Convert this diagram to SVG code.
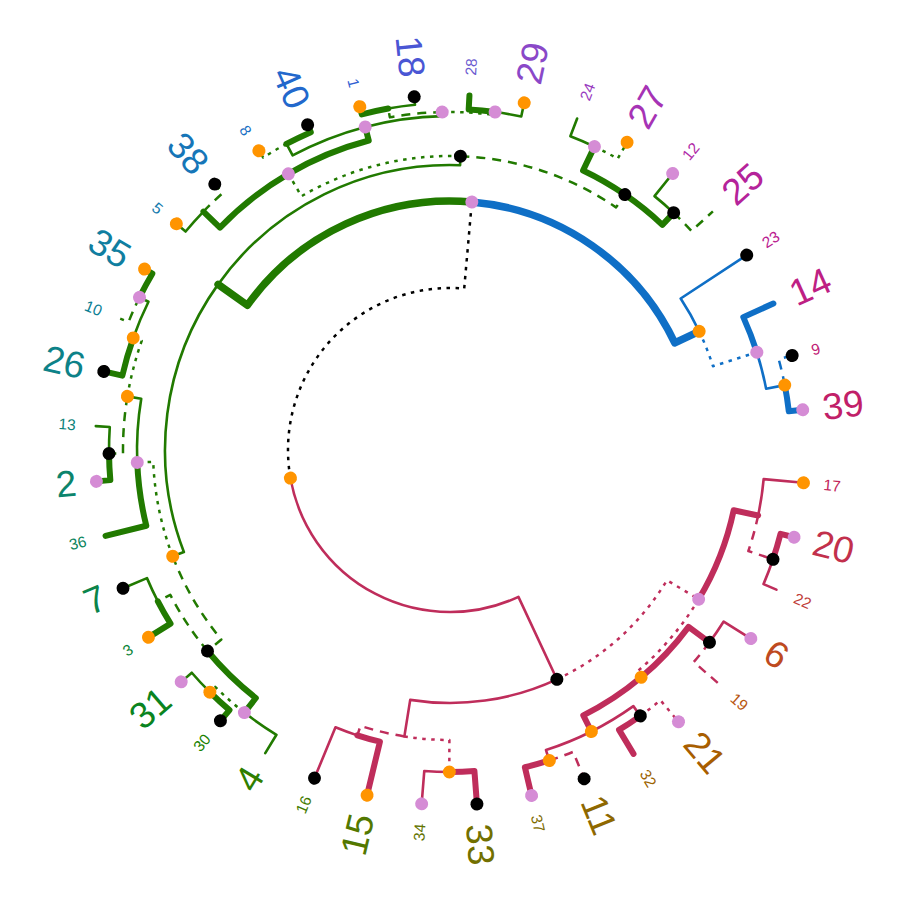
<svg xmlns="http://www.w3.org/2000/svg" width="900" height="900" viewBox="0 0 900 900">
<style>
.e{fill:none;stroke-linejoin:round}
.s{stroke-width:2.6;stroke-linecap:round}
.w{stroke-width:6;stroke-linecap:round}
.w7{stroke-width:7.5;stroke-linecap:round}
.da{stroke-width:2.5;stroke-dasharray:9 7}
.do{stroke-width:2.5;stroke-dasharray:3.5 5.5}
.gr{stroke:#217A00}.bl{stroke:#0F6FC6}.rd{stroke:#BF2D5B}.bk{stroke:#000}
.o{fill:#FF9400}.p{fill:#D58CD5}.k{fill:#000}
text{font-family:"Liberation Sans",Arial,sans-serif;dominant-baseline:central}
.big{font-size:37px}.sm{font-size:15.5px}
</style>
<rect width="900" height="900" fill="#fff"/>
<g transform="translate(450 450)">
<g id="connectors">
<path class="e do bk" transform="rotate(275.03)" d="M -41.96 -156.48 A 162 162 0 0 1 162 0 L 249 0"/>
<path class="e s rd" transform="rotate(65.01)" d="M -41.96 156.48 A 162 162 0 0 0 162 0 L 253 0"/>
<path class="e do rd" transform="rotate(30.97)" d="M 209.66 141.60 A 253 253 0 0 0 253 0 L 290 0"/>
<path class="e s rd" transform="rotate(99.05)" d="M 209.66 -141.60 A 253 253 0 0 1 253 0 L 290 0"/>
<path class="e w rd" transform="rotate(12)" d="M 274.25 94.28 A 290 290 0 0 0 290 0 L 315 0"/>
<path class="e do rd" transform="rotate(49.94)" d="M 274.25 -94.28 A 290 290 0 0 1 290 0 L 297 0"/>
<path class="e s rd" transform="rotate(5.30)" d="M 312.85 36.75 A 315 315 0 0 0 315 0 L 355 0"/>
<path class="e da rd" transform="rotate(18.70)" d="M 312.85 -36.75 A 315 315 0 0 1 315 0 L 341 0"/>
<path class="e w rd" transform="rotate(14.23)" d="M 339.96 26.58 A 341 341 0 0 0 341 0 L 355 0"/>
<path class="e s rd" transform="rotate(23.16)" d="M 339.96 -26.58 A 341 341 0 0 1 341 0 L 355 0"/>
<path class="e w rd" transform="rotate(36.55)" d="M 288.93 68.78 A 297 297 0 0 0 297 0 L 323 0"/>
<path class="e w rd" transform="rotate(63.33)" d="M 288.93 -68.78 A 297 297 0 0 1 297 0 L 315 0"/>
<path class="e s rd" transform="rotate(32.08)" d="M 322.02 25.17 A 323 323 0 0 0 323 0 L 355 0"/>
<path class="e da rd" transform="rotate(41.01)" d="M 322.02 -25.17 A 323 323 0 0 1 323 0 L 355 0"/>
<path class="e s rd" transform="rotate(54.40)" d="M 311.18 48.90 A 315 315 0 0 0 315 0 L 327 0"/>
<path class="e s rd" transform="rotate(72.26)" d="M 311.18 -48.90 A 315 315 0 0 1 315 0 L 326 0"/>
<path class="e do rd" transform="rotate(49.94)" d="M 326.01 25.49 A 327 327 0 0 0 327 0 L 355 0"/>
<path class="e w rd" transform="rotate(58.87)" d="M 326.01 -25.49 A 327 327 0 0 1 327 0 L 355 0"/>
<path class="e da rd" transform="rotate(67.80)" d="M 325.01 25.41 A 326 326 0 0 0 326 0 L 355 0"/>
<path class="e w rd" transform="rotate(76.72)" d="M 325.01 -25.41 A 326 326 0 0 1 326 0 L 355 0"/>
<path class="e da rd" transform="rotate(107.98)" d="M 286.49 -45.02 A 290 290 0 0 1 290 0 L 300 0"/>
<path class="e do rd" transform="rotate(90.12)" d="M 286.49 45.02 A 290 290 0 0 0 290 0 L 322 0"/>
<path class="e w rd" transform="rotate(103.51)" d="M 299.09 23.38 A 300 300 0 0 0 300 0 L 355 0"/>
<path class="e s rd" transform="rotate(112.44)" d="M 299.09 -23.38 A 300 300 0 0 1 300 0 L 355 0"/>
<path class="e w rd" transform="rotate(85.65)" d="M 321.02 25.10 A 322 322 0 0 0 322 0 L 355 0"/>
<path class="e s rd" transform="rotate(94.58)" d="M 321.02 -25.10 A 322 322 0 0 1 322 0 L 355 0"/>
<path class="e w7 bl" transform="rotate(334.52)" d="M 126.39 -214.54 A 249 249 0 0 1 249 0 L 276 0"/>
<path class="e s bl" transform="rotate(326.70)" d="M 273.43 37.55 A 276 276 0 0 0 276 0 L 355 0"/>
<path class="e do bl" transform="rotate(342.33)" d="M 273.43 -37.55 A 276 276 0 0 1 276 0 L 322 0"/>
<path class="e w bl" transform="rotate(335.63)" d="M 319.80 37.57 A 322 322 0 0 0 322 0 L 355 0"/>
<path class="e s bl" transform="rotate(349.03)" d="M 319.80 -37.57 A 322 322 0 0 1 322 0 L 341 0"/>
<path class="e da bl" transform="rotate(344.56)" d="M 339.96 26.58 A 341 341 0 0 0 341 0 L 355 0"/>
<path class="e w bl" transform="rotate(353.49)" d="M 339.96 -26.58 A 341 341 0 0 1 341 0 L 355 0"/>
<path class="e w7 gr" transform="rotate(215.53)" d="M 126.39 214.54 A 249 249 0 0 0 249 0 L 285 0"/>
<path class="e s gr" transform="rotate(159.03)" d="M 157.29 237.66 A 285 285 0 0 0 285 0 L 297 0"/>
<path class="e s gr" transform="rotate(272.03)" d="M 157.29 -237.66 A 285 285 0 0 1 285 0 L 294 0"/>
<path class="e do gr" transform="rotate(239.66)" d="M 248.31 157.41 A 294 294 0 0 0 294 0 L 320 0"/>
<path class="e da gr" transform="rotate(304.39)" d="M 248.31 -157.41 A 294 294 0 0 1 294 0 L 309.5 0"/>
<path class="e w gr" transform="rotate(295.46)" d="M 305.75 48.05 A 309.5 309.5 0 0 0 309.5 0 L 336 0"/>
<path class="e w gr" transform="rotate(313.32)" d="M 305.75 -48.05 A 309.5 309.5 0 0 1 309.5 0 L 326 0"/>
<path class="e s gr" transform="rotate(290.99)" d="M 334.98 26.19 A 336 336 0 0 0 336 0 L 355 0"/>
<path class="e do gr" transform="rotate(299.92)" d="M 334.98 -26.19 A 336 336 0 0 1 336 0 L 355 0"/>
<path class="e s gr" transform="rotate(308.85)" d="M 325.01 25.41 A 326 326 0 0 0 326 0 L 355 0"/>
<path class="e da gr" transform="rotate(317.78)" d="M 325.01 -25.41 A 326 326 0 0 1 326 0 L 355 0"/>
<path class="e w gr" transform="rotate(224.04)" d="M 308.18 86.16 A 320 320 0 0 0 320 0 L 343 0"/>
<path class="e w gr" transform="rotate(255.29)" d="M 308.18 -86.16 A 320 320 0 0 1 320 0 L 334 0"/>
<path class="e s gr" transform="rotate(219.57)" d="M 341.96 26.73 A 343 343 0 0 0 343 0 L 355 0"/>
<path class="e da gr" transform="rotate(228.50)" d="M 341.96 -26.73 A 343 343 0 0 1 343 0 L 355 0"/>
<path class="e s gr" transform="rotate(241.89)" d="M 324.92 77.35 A 334 334 0 0 0 334 0 L 347 0"/>
<path class="e s gr" transform="rotate(268.68)" d="M 324.92 -77.35 A 334 334 0 0 1 334 0 L 338 0"/>
<path class="e do gr" transform="rotate(237.43)" d="M 345.95 27.04 A 347 347 0 0 0 347 0 L 355 0"/>
<path class="e w gr" transform="rotate(246.35)" d="M 345.95 -27.04 A 347 347 0 0 1 347 0 L 355 0"/>
<path class="e da gr" transform="rotate(259.75)" d="M 333.90 52.47 A 338 338 0 0 0 338 0 L 347 0"/>
<path class="e do gr" transform="rotate(277.60)" d="M 333.90 -52.47 A 338 338 0 0 1 338 0 L 341 0"/>
<path class="e w gr" transform="rotate(255.28)" d="M 345.95 27.04 A 347 347 0 0 0 347 0 L 355 0"/>
<path class="e s gr" transform="rotate(264.21)" d="M 345.95 -27.04 A 347 347 0 0 1 347 0 L 355 0"/>
<path class="e w gr" transform="rotate(273.14)" d="M 339.96 26.58 A 341 341 0 0 0 341 0 L 355 0"/>
<path class="e s gr" transform="rotate(282.06)" d="M 339.96 -26.58 A 341 341 0 0 1 341 0 L 355 0"/>
<path class="e do gr" transform="rotate(177.72)" d="M 281.34 -95.18 A 297 297 0 0 1 297 0 L 313 0"/>
<path class="e da gr" transform="rotate(140.34)" d="M 281.34 95.18 A 297 297 0 0 0 297 0 L 315 0"/>
<path class="e w gr" transform="rotate(166.00)" d="M 306.47 63.58 A 313 313 0 0 0 313 0 L 355 0"/>
<path class="e s gr" transform="rotate(189.44)" d="M 306.47 -63.58 A 313 313 0 0 1 313 0 L 327 0"/>
<path class="e da gr" transform="rotate(179.40)" d="M 322.0 57.01 A 327 327 0 0 0 327 0 L 341 0"/>
<path class="e do gr" transform="rotate(199.49)" d="M 322.0 -57.01 A 327 327 0 0 1 327 0 L 336 0"/>
<path class="e w gr" transform="rotate(174.93)" d="M 339.96 26.58 A 341 341 0 0 0 341 0 L 355 0"/>
<path class="e s gr" transform="rotate(183.86)" d="M 339.96 -26.58 A 341 341 0 0 1 341 0 L 355 0"/>
<path class="e w gr" transform="rotate(192.79)" d="M 333.71 39.20 A 336 336 0 0 0 336 0 L 355 0"/>
<path class="e s gr" transform="rotate(206.18)" d="M 333.71 -39.20 A 336 336 0 0 1 336 0 L 346 0"/>
<path class="e da gr" transform="rotate(201.72)" d="M 344.95 26.97 A 346 346 0 0 0 346 0 L 355 0"/>
<path class="e w gr" transform="rotate(210.64)" d="M 344.95 -26.97 A 346 346 0 0 1 346 0 L 355 0"/>
<path class="e w gr" transform="rotate(128.06)" d="M 307.79 67.0 A 315 315 0 0 0 315 0 L 333.5 0"/>
<path class="e da gr" transform="rotate(152.62)" d="M 307.79 -67.0 A 315 315 0 0 1 315 0 L 329 0"/>
<path class="e s gr" transform="rotate(121.36)" d="M 331.22 38.91 A 333.5 333.5 0 0 0 333.5 0 L 355 0"/>
<path class="e do gr" transform="rotate(134.76)" d="M 331.22 -38.91 A 333.5 333.5 0 0 1 333.5 0 L 341 0"/>
<path class="e w gr" transform="rotate(130.29)" d="M 339.96 26.58 A 341 341 0 0 0 341 0 L 355 0"/>
<path class="e s gr" transform="rotate(139.22)" d="M 339.96 -26.58 A 341 341 0 0 1 341 0 L 355 0"/>
<path class="e w gr" transform="rotate(148.15)" d="M 328.0 25.64 A 329 329 0 0 0 329 0 L 355 0"/>
<path class="e s gr" transform="rotate(157.08)" d="M 328.0 -25.64 A 329 329 0 0 1 329 0 L 355 0"/>
</g>
<g id="internal-nodes">
<g id="n-root"><circle class="o" r="6.5" cx="162" transform="rotate(170.02)"/></g>
<g id="n-A"><circle class="p" r="6.5" cx="249" transform="rotate(275.03)"/></g>
<g id="n-B"><circle class="k" r="6.5" cx="253" transform="rotate(65.01)"/></g>
<g id="n-P1"><circle class="p" r="6.5" cx="290" transform="rotate(30.97)"/></g>
<g id="n-R0"><circle class="o" r="6.5" cx="297" transform="rotate(49.94)"/></g>
<g id="n-R1"><circle class="k" r="6.5" cx="323" transform="rotate(36.55)"/></g>
<g id="n-Q2"><circle class="o" r="6.5" cx="315" transform="rotate(63.33)"/></g>
<g id="n-Q2a"><circle class="k" r="6.5" cx="327" transform="rotate(54.40)"/></g>
<g id="n-Q2b"><circle class="o" r="6.5" cx="326" transform="rotate(72.26)"/></g>
<g id="n-Q1b"><circle class="k" r="6.5" cx="341" transform="rotate(18.70)"/></g>
<g id="n-P2b"><circle class="o" r="6.5" cx="322" transform="rotate(90.12)"/></g>
<g id="n-Bl"><circle class="o" r="6.5" cx="276" transform="rotate(334.52)"/></g>
<g id="n-Bl2"><circle class="p" r="6.5" cx="322" transform="rotate(342.33)"/></g>
<g id="n-Bl3"><circle class="o" r="6.5" cx="341" transform="rotate(349.03)"/></g>
<g id="n-G1"><circle class="o" r="6.5" cx="297" transform="rotate(159.03)"/></g>
<g id="n-G2"><circle class="k" r="6.5" cx="294" transform="rotate(272.03)"/></g>
<g id="n-G2b"><circle class="k" r="6.5" cx="309.5" transform="rotate(304.39)"/></g>
<g id="n-G2c"><circle class="p" r="6.5" cx="336" transform="rotate(295.46)"/></g>
<g id="n-G2d"><circle class="k" r="6.5" cx="326" transform="rotate(313.32)"/></g>
<g id="n-G3"><circle class="p" r="6.5" cx="320" transform="rotate(239.66)"/></g>
<g id="n-G4"><circle class="p" r="6.5" cx="334" transform="rotate(255.29)"/></g>
<g id="n-Y"><circle class="p" r="6.5" cx="338" transform="rotate(268.68)"/></g>
<g id="n-Y2"><circle class="p" r="6.5" cx="341" transform="rotate(277.60)"/></g>
<g id="n-H1"><circle class="p" r="6.5" cx="313" transform="rotate(177.72)"/></g>
<g id="n-H2"><circle class="k" r="6.5" cx="315" transform="rotate(140.34)"/></g>
<g id="n-H3"><circle class="p" r="6.5" cx="333.5" transform="rotate(128.06)"/></g>
<g id="n-H5"><circle class="o" r="6.5" cx="341" transform="rotate(134.76)"/></g>
<g id="n-H6"><circle class="o" r="6.5" cx="327" transform="rotate(189.44)"/></g>
<g id="n-H7"><circle class="k" r="6.5" cx="341" transform="rotate(179.40)"/></g>
<g id="n-H8"><circle class="o" r="6.5" cx="336" transform="rotate(199.49)"/></g>
<g id="n-H9"><circle class="p" r="6.5" cx="346" transform="rotate(206.18)"/></g>
</g>
<g id="tips">
<g id="tip-17" transform="rotate(5.30)"><circle class="o" r="6.5" cx="355"/><text class="sm" x="375" fill="#C2255A">17</text></g>
<g id="tip-20" transform="rotate(14.23)"><circle class="p" r="6.5" cx="355"/><text class="big" x="375" fill="#C2304C">20</text></g>
<g id="tip-22" transform="rotate(23.16)"><text class="sm" x="375" fill="#C03E3A">22</text></g>
<g id="tip-6" transform="rotate(32.08)"><circle class="p" r="6.5" cx="355"/><text class="big" x="375" fill="#BE4A20">6</text></g>
<g id="tip-19" transform="rotate(41.01)"><text class="sm" x="375" fill="#B85610">19</text></g>
<g id="tip-21" transform="rotate(49.94)"><circle class="p" r="6.5" cx="355"/><text class="big" x="375" fill="#A85E00">21</text></g>
<g id="tip-32" transform="rotate(58.87)"><text class="sm" x="375" fill="#9C6300">32</text></g>
<g id="tip-11" transform="rotate(67.80)"><circle class="k" r="6.5" cx="355"/><text class="big" x="375" fill="#8E6800">11</text></g>
<g id="tip-37" transform="rotate(76.72)"><circle class="p" r="6.5" cx="355"/><text class="sm" x="375" fill="#806C00">37</text></g>
<g id="tip-33" transform="rotate(85.65)"><circle class="k" r="6.5" cx="355"/><text class="big" x="375" fill="#727000">33</text></g>
<g id="tip-34" transform="rotate(94.58)"><circle class="p" r="6.5" cx="355"/><text class="sm" x="-375" text-anchor="end" transform="rotate(180)" fill="#637400">34</text></g>
<g id="tip-15" transform="rotate(103.51)"><circle class="o" r="6.5" cx="355"/><text class="big" x="-375" text-anchor="end" transform="rotate(180)" fill="#537800">15</text></g>
<g id="tip-16" transform="rotate(112.44)"><circle class="k" r="6.5" cx="355"/><text class="sm" x="-375" text-anchor="end" transform="rotate(180)" fill="#437B00">16</text></g>
<g id="tip-4" transform="rotate(121.36)"><text class="big" x="-375" text-anchor="end" transform="rotate(180)" fill="#2F7F00">4</text></g>
<g id="tip-30" transform="rotate(130.29)"><circle class="k" r="6.5" cx="355"/><text class="sm" x="-375" text-anchor="end" transform="rotate(180)" fill="#1C8200">30</text></g>
<g id="tip-31" transform="rotate(139.22)"><circle class="p" r="6.5" cx="355"/><text class="big" x="-375" text-anchor="end" transform="rotate(180)" fill="#0A8420">31</text></g>
<g id="tip-3" transform="rotate(148.15)"><circle class="o" r="6.5" cx="355"/><text class="sm" x="-375" text-anchor="end" transform="rotate(180)" fill="#0A8436">3</text></g>
<g id="tip-7" transform="rotate(157.08)"><circle class="k" r="6.5" cx="355"/><text class="big" x="-375" text-anchor="end" transform="rotate(180)" fill="#0B844A">7</text></g>
<g id="tip-36" transform="rotate(166.00)"><text class="sm" x="-375" text-anchor="end" transform="rotate(180)" fill="#0B845C">36</text></g>
<g id="tip-2" transform="rotate(174.93)"><circle class="p" r="6.5" cx="355"/><text class="big" x="-375" text-anchor="end" transform="rotate(180)" fill="#0C846C">2</text></g>
<g id="tip-13" transform="rotate(183.86)"><text class="sm" x="-375" text-anchor="end" transform="rotate(180)" fill="#0C837A">13</text></g>
<g id="tip-26" transform="rotate(192.79)"><circle class="k" r="6.5" cx="355"/><text class="big" x="-375" text-anchor="end" transform="rotate(180)" fill="#0D8288">26</text></g>
<g id="tip-10" transform="rotate(201.72)"><text class="sm" x="-375" text-anchor="end" transform="rotate(180)" fill="#0D8094">10</text></g>
<g id="tip-35" transform="rotate(210.64)"><circle class="o" r="6.5" cx="355"/><text class="big" x="-375" text-anchor="end" transform="rotate(180)" fill="#107EA0">35</text></g>
<g id="tip-5" transform="rotate(219.57)"><circle class="o" r="6.5" cx="355"/><text class="sm" x="-375" text-anchor="end" transform="rotate(180)" fill="#1379AD">5</text></g>
<g id="tip-38" transform="rotate(228.50)"><circle class="k" r="6.5" cx="355"/><text class="big" x="-375" text-anchor="end" transform="rotate(180)" fill="#1676B8">38</text></g>
<g id="tip-8" transform="rotate(237.43)"><circle class="o" r="6.5" cx="355"/><text class="sm" x="-375" text-anchor="end" transform="rotate(180)" fill="#1A70C4">8</text></g>
<g id="tip-40" transform="rotate(246.35)"><circle class="k" r="6.5" cx="355"/><text class="big" x="-375" text-anchor="end" transform="rotate(180)" fill="#2268CC">40</text></g>
<g id="tip-1" transform="rotate(255.28)"><circle class="o" r="6.5" cx="355"/><text class="sm" x="-375" text-anchor="end" transform="rotate(180)" fill="#3060D2">1</text></g>
<g id="tip-18" transform="rotate(264.21)"><circle class="k" r="6.5" cx="355"/><text class="big" x="-375" text-anchor="end" transform="rotate(180)" fill="#4A56D4">18</text></g>
<g id="tip-28" transform="rotate(273.14)"><text class="sm" x="375" fill="#6B5BD0">28</text></g>
<g id="tip-29" transform="rotate(282.06)"><circle class="o" r="6.5" cx="355"/><text class="big" x="375" fill="#8A48C8">29</text></g>
<g id="tip-24" transform="rotate(290.99)"><text class="sm" x="375" fill="#9A3CC0">24</text></g>
<g id="tip-27" transform="rotate(299.92)"><circle class="o" r="6.5" cx="355"/><text class="big" x="375" fill="#A633B5">27</text></g>
<g id="tip-12" transform="rotate(308.85)"><circle class="p" r="6.5" cx="355"/><text class="sm" x="375" fill="#B02AA8">12</text></g>
<g id="tip-25" transform="rotate(317.78)"><text class="big" x="375" fill="#B5239A">25</text></g>
<g id="tip-23" transform="rotate(326.70)"><circle class="k" r="6.5" cx="355"/><text class="sm" x="375" fill="#BA2090">23</text></g>
<g id="tip-14" transform="rotate(335.63)"><text class="big" x="375" fill="#BE2083">14</text></g>
<g id="tip-9" transform="rotate(344.56)"><circle class="k" r="6.5" cx="355"/><text class="sm" x="375" fill="#C02075">9</text></g>
<g id="tip-39" transform="rotate(353.49)"><circle class="p" r="6.5" cx="355"/><text class="big" x="375" fill="#C12068">39</text></g>
</g>
</g>
</svg>
